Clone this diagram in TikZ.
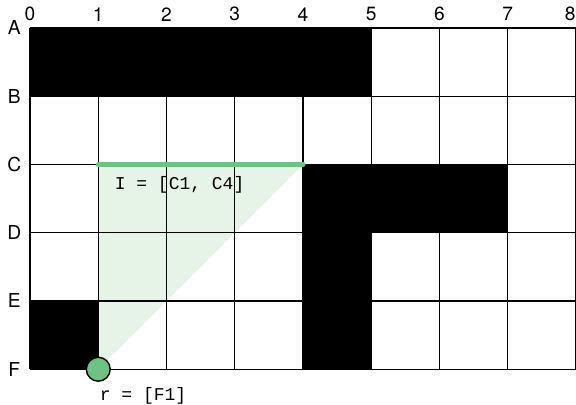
\documentclass[tikz,border=0pt]{standalone}
\usepackage{fontspec}
\setmainfont{TeX Gyre Heros}
\setmonofont{Liberation Mono}
\usetikzlibrary{positioning}
\definecolor{pathgreen}{RGB}{110,195,130}
\definecolor{fangreen}{RGB}{230,244,232}
\begin{document}
\begin{tikzpicture}[
  axlabel/.style={font=\fontsize{8}{9}\selectfont,inner sep=0pt},
  codelabel/.style={font=\fontsize{7.5}{8}\selectfont\ttfamily,inner sep=1pt},
  wall/.style={fill=black},
  gridline/.style={line width=0.6pt}
]
\useasboundingbox (-0.44,0.41) rectangle (8,-5.524);
\fill[fangreen] (1,-2) -- (4,-2) -- (1,-5) -- cycle;
\fill[wall] (0,0) rectangle (5,-1);
\fill[wall] (4,-2) rectangle (7,-3);
\fill[wall] (4,-3) rectangle (5,-5);
\fill[wall] (0,-4) rectangle (1,-5);
\draw[gridline] (0,-5) grid (8,0);
\foreach \c in {0,...,7}
  \node[axlabel] (col\c) at (\c,0.2) {\c};
\node[axlabel,anchor=east] (col8) at (8,0.2) {8};
\foreach \r [count=\i from 0] in {A,B,C,D,E,F}
  \node[axlabel] (row\r) at (-0.23,-\i) {\r};
\coordinate (c1) at (1,-2);
\coordinate (c4) at (4,-2);
\draw[pathgreen,line width=2.1pt,line cap=round] (c1) -- (c4);
\node[circle,draw,fill=pathgreen,minimum size=0.35cm,inner sep=0pt,line width=0.6pt] (r) at (1,-5) {};
\node[codelabel,below right=0.13cm and 0.2cm of c1] (ilab) {I = [C1, C4]};
\node[codelabel,below right=0.1cm and -0.15cm of r] (rlab) {r = [F1]};
\end{tikzpicture}
\end{document}
